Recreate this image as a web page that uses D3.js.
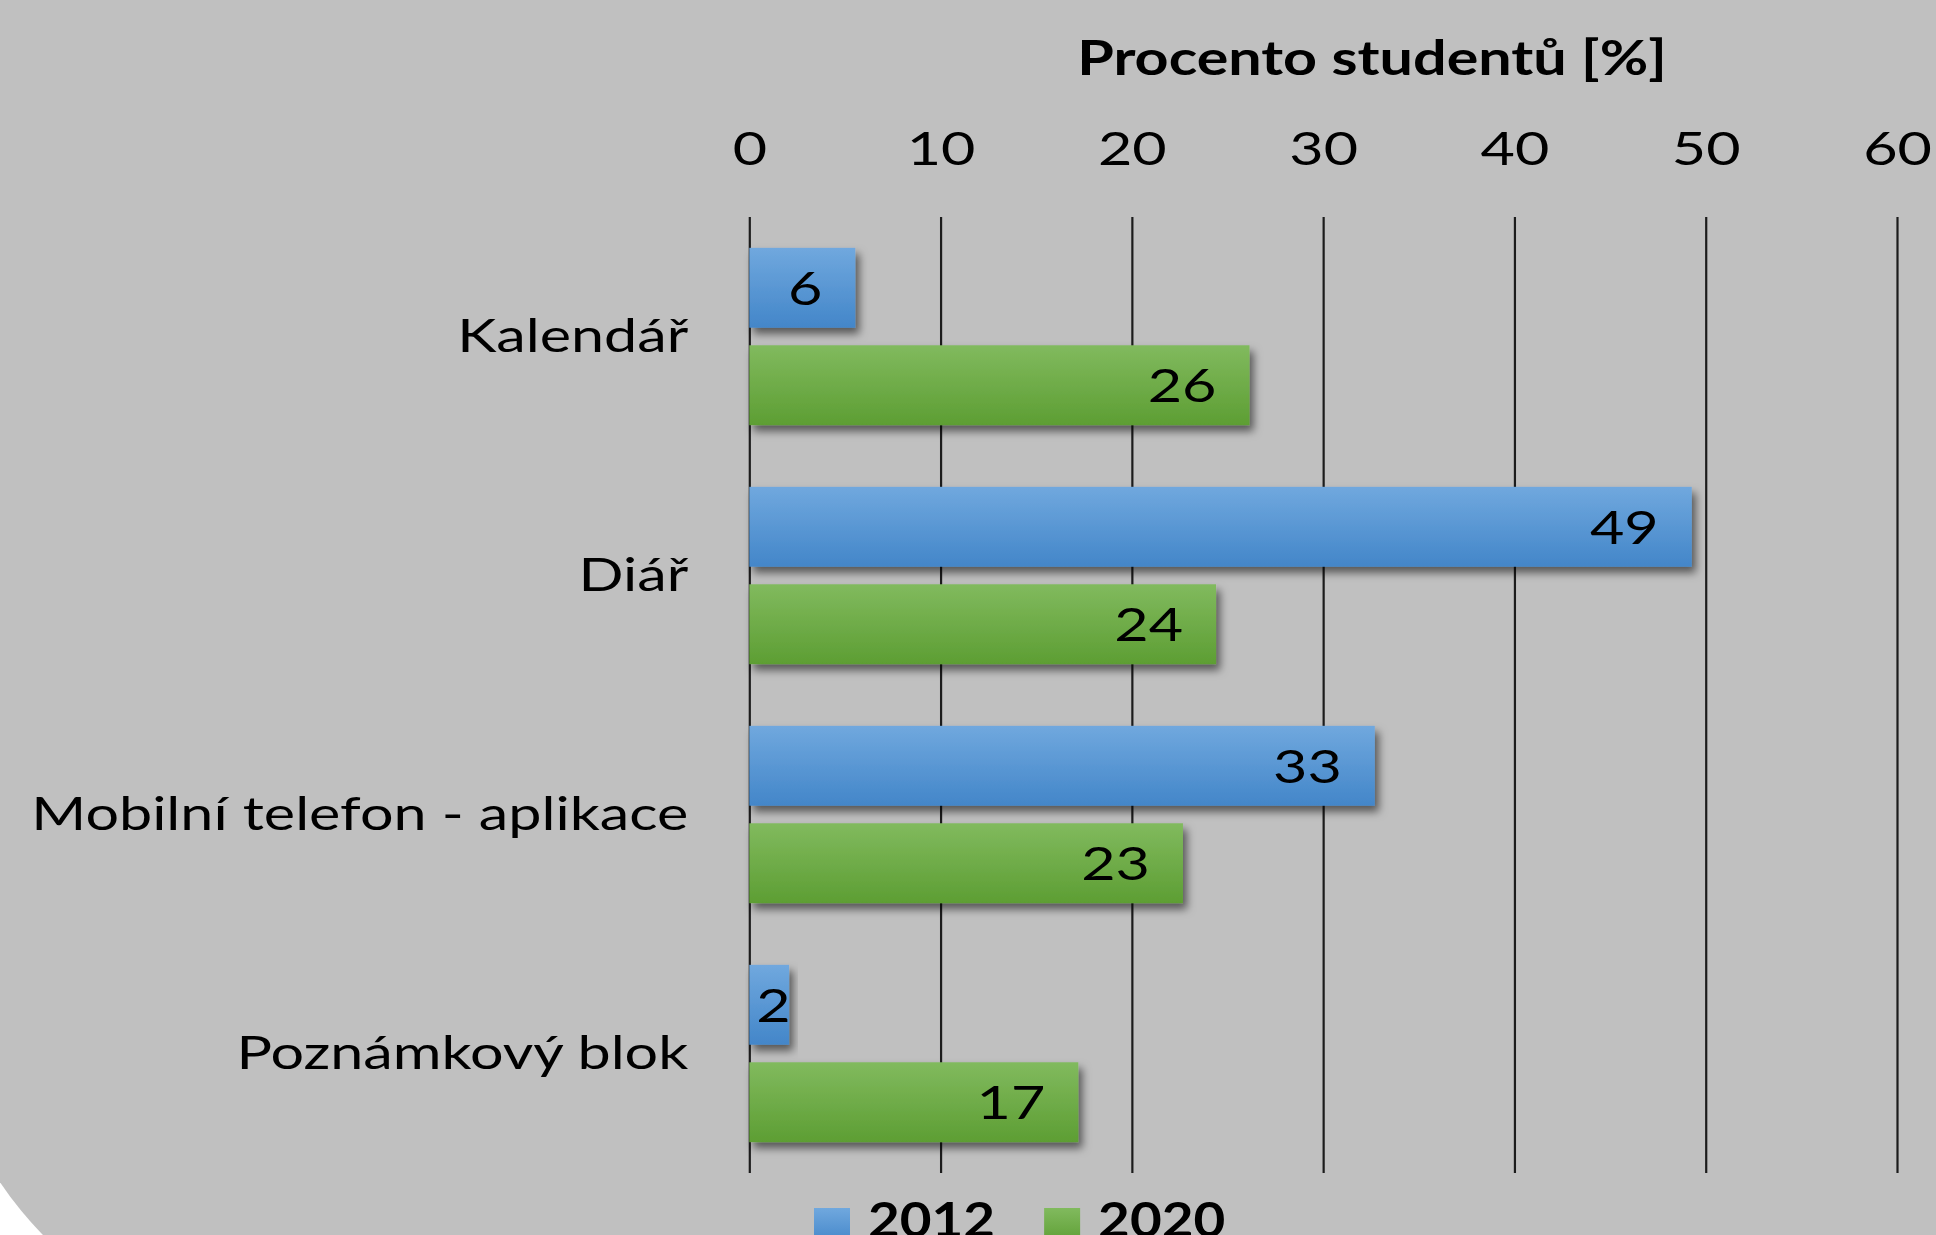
<!DOCTYPE html>
<html>
<head>
<meta charset="utf-8">
<script src="https://cdn.jsdelivr.net/npm/d3@7"></script>
<style>
  html, body { margin: 0; padding: 0; background: #ffffff; }
  svg { display: block; }
  text { font-family: Lato, "Open Sans", sans-serif; fill: #000; }
</style>
</head>
<body>
<svg id="chart" width="1936" height="1235"></svg>
<script>
// ---- data ----
const categories = ["Kalendář", "Diář", "Mobilní telefon - aplikace", "Poznámkový blok"];
const seriesNames = ["2012", "2020"];
const values2012 = [5.54, 49.27, 32.7, 2.08];
const values2020 = [26.15, 24.4, 22.67, 17.2];
const tickValues = [0, 10, 20, 30, 40, 50, 60];
const axisTitle = "Procento studentů [%]";

// ---- layout ----
const W = 1936, H = 1235;
const FS = 47;            // font size
const CAP = FS * 0.7165;  // Lato cap height
const svg = d3.select("#chart");

// background (grey rounded chart area, white page corner)
svg.append("rect").attr("x", 0).attr("y", 0).attr("width", W).attr("height", H).attr("fill", "#ffffff");
svg.append("rect")
  .attr("x", -63).attr("y", -400).attr("width", 2400).attr("height", 1747)
  .attr("rx", 372).attr("ry", 372).attr("fill", "#c0c0c0");

const defs = svg.append("defs");
function grad(id, top, bottom) {
  const g = defs.append("linearGradient").attr("id", id)
    .attr("x1", 0).attr("y1", 0).attr("x2", 0).attr("y2", 1);
  g.append("stop").attr("offset", "0%").attr("stop-color", top);
  g.append("stop").attr("offset", "100%").attr("stop-color", bottom);
}
grad("g2012", "#70a8de", "#4386c9");
grad("g2020", "#81ba5e", "#5d9e33");
const colorOf = { "2012": "url(#g2012)", "2020": "url(#g2020)" };

const f = defs.append("filter").attr("id", "shadow")
  .attr("x", "-10%").attr("y", "-30%").attr("width", "130%").attr("height", "180%");
f.append("feDropShadow").attr("dx", 4).attr("dy", 6).attr("stdDeviation", 4.5)
  .attr("flood-color", "#000").attr("flood-opacity", 0.55);

// scales
const x = d3.scaleLinear().domain([0, 60]).range([749.3, 1897]);
const y0 = d3.scaleBand().domain(categories).range([217, 1173])
  .paddingInner(0.258).paddingOuter(0.129);
const y1 = d3.scaleBand().domain(seriesNames).range([0, y0.bandwidth()]).paddingInner(0.18);

// text stretch (reference font is horizontally wider)
const probe = svg.append("text").attr("font-size", FS).text(categories[2]);
const STRETCH = 657 / probe.node().getComputedTextLength();
probe.remove();
function stretchBy(k) {
  return sel => sel.each(function () {
    const L = this.getComputedTextLength();
    d3.select(this).attr("textLength", L * k).attr("lengthAdjust", "spacingAndGlyphs");
  });
}
const stretch = stretchBy(STRETCH);

// gridlines via axis
const gridAxis = d3.axisTop(x).tickValues(tickValues).tickSize(-(1173 - 217)).tickFormat("");
const grid = svg.append("g").attr("transform", "translate(0,217)").call(gridAxis);
grid.select(".domain").remove();
grid.selectAll(".tick line").attr("stroke", "#1c1c1c").attr("stroke-width", 2.2);

// tick labels
const tickAxis = d3.axisTop(x).tickValues(tickValues).tickSize(0).tickFormat(d3.format("d"));
const tg = svg.append("g").attr("transform", "translate(0,165)").call(tickAxis);
tg.select(".domain").remove();
tg.selectAll(".tick text")
  .attr("font-size", FS).attr("font-family", "Lato, 'Open Sans', sans-serif")
  .attr("fill", "#000").attr("dy", 0).attr("y", 0)
  .attr("text-anchor", "middle").call(stretch);

// axis title
svg.append("text").attr("x", 1372).attr("y", 74.5)
  .attr("font-size", FS).attr("font-weight", "bold").attr("text-anchor", "middle")
  .text(axisTitle).call(stretch);

// category labels
svg.append("g").selectAll("text").data(categories).join("text")
  .attr("x", x(0) - 61)
  .attr("y", d => y0(d) + y0.bandwidth() / 2 + CAP / 2 - 1)
  .attr("font-size", FS).attr("text-anchor", "end")
  .text(d => d).call(stretch);

// bars
const rows = categories.map((c, i) => ({ cat: c, vals: [
  { s: "2012", v: values2012[i] }, { s: "2020", v: values2020[i] } ] }));
const groups = svg.append("g").selectAll("g").data(rows).join("g")
  .attr("transform", d => `translate(0,${y0(d.cat)})`);
groups.selectAll("rect").data(d => d.vals).join("rect")
  .attr("x", x(0))
  .attr("y", d => y1(d.s))
  .attr("width", d => x(d.v) - x(0))
  .attr("height", y1.bandwidth())
  .attr("fill", d => colorOf[d.s])
  .attr("filter", "url(#shadow)");

// data labels (inside end)
const fmt = d3.format(".0f");
groups.selectAll("text").data(d => d.vals).join("text")
  .attr("font-size", FS).attr("text-anchor", "end")
  .attr("y", d => y1(d.s) + y1.bandwidth() / 2 + CAP / 2)
  .text(d => fmt(d.v))
  .call(stretch)
  .attr("x", function (d) {
    const w = +this.getAttribute("textLength");
    return Math.max(x(d.v) - 33, x(0) + 7 + w);
  });

// legend
const lg = svg.append("g");
let lx = 814;
seriesNames.forEach(s => {
  lg.append("rect").attr("x", lx).attr("y", 1208).attr("width", 36).attr("height", 36)
    .attr("fill", colorOf[s]);
  const t = lg.append("text").attr("x", lx + 54).attr("y", 1203 + CAP)
    .attr("font-size", FS).attr("font-weight", "bold").text(s).call(stretchBy(STRETCH * 0.925));
  lx = lx + 54 + (+t.attr("textLength")) + 49;
});
</script>
</body>
</html>
